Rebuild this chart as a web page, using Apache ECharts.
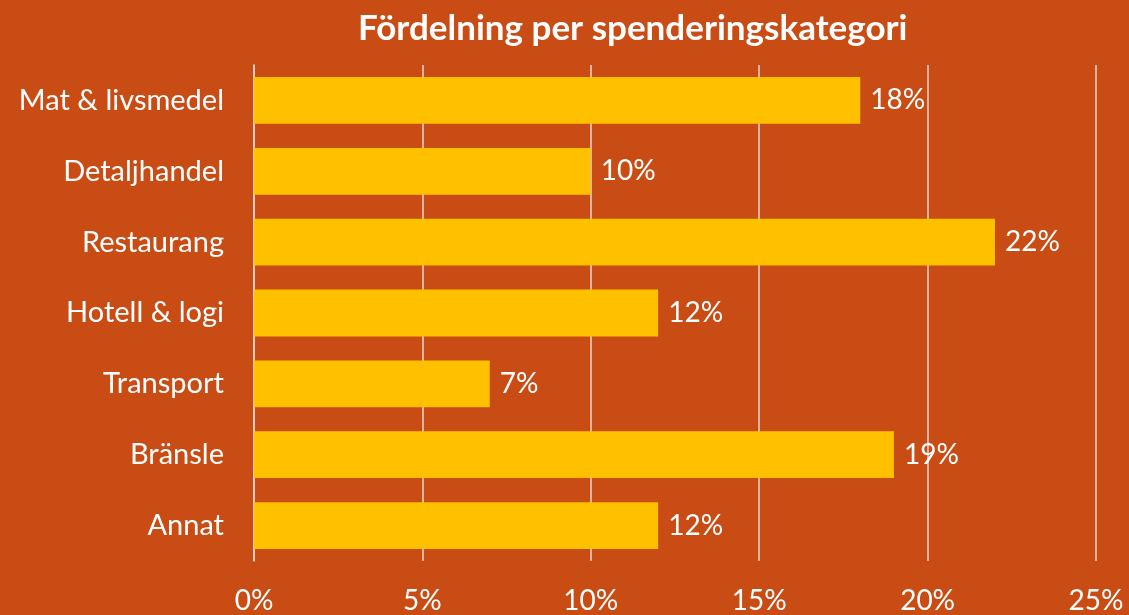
<!DOCTYPE html>
<html><head><meta charset="utf-8">
<script src="https://cdn.jsdelivr.net/npm/echarts@6/dist/echarts.min.js"></script>
<style>html,body{margin:0;padding:0;background:#C94C14;}#c{width:1129px;height:615px;}</style>
</head><body><div id="c"></div>
<script>
const categories = ['Mat & livsmedel','Detaljhandel','Restaurang','Hotell & logi','Transport','Bränsle','Annat'];
const values = [18, 10, 22, 12, 7, 19, 12];
const xTicks = [0, 5, 10, 15, 20, 25];
const title = 'Fördelning per spenderingskategori';
const FONT = 'Lato';
const chart = echarts.init(document.getElementById('c'));
chart.setOption({
  backgroundColor: '#C94C14',
  animation: false,
  title: {text: title, left: 353, top: 6, textStyle: {color: '#fff', fontFamily: FONT, fontWeight: 'bold', fontSize: 35}},
  grid: {left: 254, right: 33, top: 65, bottom: 54, containLabel: false},
  xAxis: {
    type: 'value', min: xTicks[0], max: xTicks[xTicks.length-1], interval: 5,
    axisLine: {show: false}, axisTick: {show: false},
    splitLine: {show: true, lineStyle: {color: '#E6D6CF', width: 1.5}},
    axisLabel: {color: '#fff', fontFamily: FONT, fontSize: 28, margin: 26, formatter: v => v + '%'}
  },
  yAxis: {
    type: 'category', data: categories, inverse: true,
    axisLine: {show: true, lineStyle: {color: '#E6D6CF', width: 1.5}}, axisTick: {show: false},
    axisLabel: {color: '#fff', fontFamily: FONT, fontSize: 29, margin: 30}
  },
  series: [{
    type: 'bar', data: values, barCategoryGap: '34%',
    itemStyle: {color: '#FFC000'},
    label: {show: true, position: 'right', distance: 10, color: '#fff', fontFamily: FONT, fontSize: 28, formatter: p => p.value + '%'}
  }]
});
</script></body></html>
